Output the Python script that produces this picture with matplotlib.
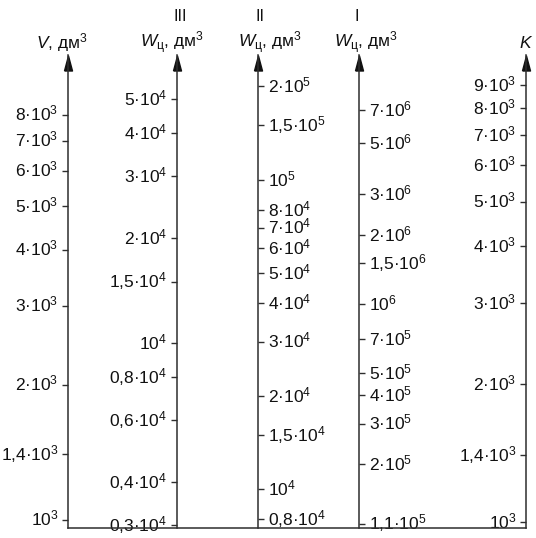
import matplotlib
matplotlib.use('Agg')
import matplotlib.pyplot as plt
from matplotlib.lines import Line2D
from matplotlib.ticker import NullLocator
from matplotlib.transforms import ScaledTranslation

plt.rcParams['font.family'] = ['Liberation Sans', 'DejaVu Sans']
plt.rcParams['mathtext.fontset'] = 'custom'
plt.rcParams['mathtext.rm'] = 'Liberation Sans'
plt.rcParams['mathtext.it'] = 'Liberation Sans:italic'
plt.rcParams['mathtext.bf'] = 'Liberation Sans:bold'

# ---------------- data: scale values and tick labels ----------------
v_ticks = [1e3, 1.4e3, 2e3, 3e3, 4e3, 5e3, 6e3, 7e3, 8e3]
v_labels = ['10^3', '1,4·10^3', '2·10^3', '3·10^3', '4·10^3', '5·10^3',
            '6·10^3', '7·10^3', '8·10^3']

w3_ticks = [0.3e4, 0.4e4, 0.6e4, 0.8e4, 1e4, 1.5e4, 2e4, 3e4, 4e4, 5e4]
w3_labels = ['0,3·10^4', '0,4·10^4', '0,6·10^4', '0,8·10^4', '10^4',
             '1,5·10^4', '2·10^4', '3·10^4', '4·10^4', '5·10^4']

w2_ticks = [0.8e4, 1e4, 1.5e4, 2e4, 3e4, 4e4, 5e4, 6e4, 7e4, 8e4, 1e5,
            1.5e5, 2e5]
w2_labels = ['0,8·10^4', '10^4', '1,5·10^4', '2·10^4', '3·10^4', '4·10^4',
             '5·10^4', '6·10^4', '7·10^4', '8·10^4', '10^5', '1,5·10^5',
             '2·10^5']

w1_ticks = [1.1e5, 2e5, 3e5, 4e5, 5e5, 7e5, 1e6, 1.5e6, 2e6, 3e6, 5e6, 7e6]
w1_labels = ['1,1·10^5', '2·10^5', '3·10^5', '4·10^5', '5·10^5', '7·10^5',
             '10^6', '1,5·10^6', '2·10^6', '3·10^6', '5·10^6', '7·10^6']

k_ticks = [1e3, 1.4e3, 2e3, 3e3, 4e3, 5e3, 6e3, 7e3, 8e3, 9e3]
k_labels = ['10^3', '1,4·10^3', '2·10^3', '3·10^3', '4·10^3', '5·10^3',
            '6·10^3', '7·10^3', '8·10^3', '9·10^3']

titles = ['$\\mathit{V}$, дм$^{3}$', '$\\mathit{W}_{\\mathrm{ц}}$, дм$^{3}$',
          '$\\mathit{W}_{\\mathrm{ц}}$, дм$^{3}$',
          '$\\mathit{W}_{\\mathrm{ц}}$, дм$^{3}$', '$\\mathit{K}$']
numerals = ['', 'III', 'II', 'I', '']

# ---------------- layout ----------------
W, H = 536, 538
BOT, TOP = 528, 55
LINE = '#2e2e2e'
TXT = '#111111'
FS = 12.5


def fx(px):
    return px / W


def fy(py):
    return 1 - py / H


def sup(s):
    m, e = s.split('^')
    return f'{m}$^{{{e}}}$'


# (x pixel, tick side, lower limit, upper limit, ticks, labels, title x, numeral x)
specs = [
    (68, 'left', 958, 10863, v_ticks, v_labels, 62, None),
    (177, 'left', 2950, 66880, w3_ticks, w3_labels, 172, 180),
    (258, 'right', 7500, 252700, w2_ticks, w2_labels, 270, 260),
    (359, 'right', 1.052e5, 1.215e7, w1_ticks, w1_labels, 366, 357),
    (526, 'left', 970, 10447, k_ticks, k_labels, 526, None),
]

fig = plt.figure(figsize=(W / 100, H / 100), dpi=100)
fig.patch.set_facecolor('white')

tri = [(-4, -7.5), (4, -7.5), (0, 7.5), (-4, -7.5)]
dw = 0.002
shift = ScaledTranslation(0, -0.36 * FS / 72, fig.dpi_scale_trans)
for i, (x, side, lo, hi, ticks, labels, tx, nx) in enumerate(specs):
    left = x / W if side == 'left' else x / W - dw
    ax = fig.add_axes([left, fy(BOT), dw, (BOT - TOP) / H])
    ax.set_yscale('log')
    ax.set_ylim(lo, hi)
    ax.patch.set_visible(False)
    for s in ax.spines.values():
        s.set_visible(False)
    ax.spines[side].set_visible(True)
    ax.spines[side].set_linewidth(1.1)
    ax.spines[side].set_color(LINE)
    ax.set_xticks([])
    ax.set_yticks(ticks)
    ax.set_yticklabels([sup(l) for l in labels])
    ax.yaxis.set_minor_locator(NullLocator())
    if side == 'right':
        ax.yaxis.tick_right()
    ax.tick_params(axis='y', which='major', direction='out', length=4.5,
                   width=1.0, pad=2.5, labelsize=FS, color=LINE,
                   labelcolor=TXT)
    for t in ax.yaxis.get_major_ticks():
        lab = t.label2 if side == 'right' else t.label1
        lab.set_verticalalignment('baseline')
        lab.set_transform(lab.get_transform() + shift)
    ax.plot([0 if side == 'left' else 1], [1 - 7.5 / (BOT - TOP)],
            marker=tri, ms=10.8, color='#111111', transform=ax.transAxes,
            clip_on=False, linestyle='none')
    fig.text(fx(tx), fy(48), titles[i], ha='center', va='baseline',
             fontsize=12.5, color=TXT)
    if nx is not None:
        fig.text(fx(nx), fy(21), numerals[i], ha='center', va='baseline',
                 fontsize=11.5, color=TXT)

fig.add_artist(Line2D([fx(68), fx(526)], [fy(BOT), fy(BOT)],
                      transform=fig.transFigure, color=LINE, lw=1.1))

fig.savefig('out.png', dpi=100, facecolor='white')
